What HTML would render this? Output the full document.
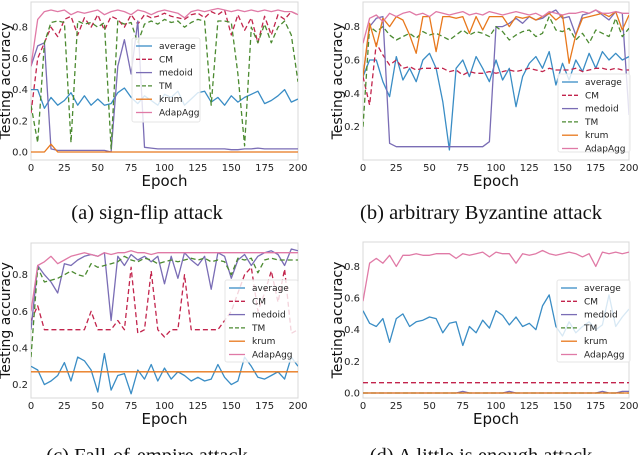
<!DOCTYPE html>
<html><head><meta charset="utf-8"><style>
body{margin:0;background:#fff}
svg{display:block;font-family:"DejaVu Sans","Liberation Sans",sans-serif}
</style></head><body>
<svg id="fig" width="640" height="455" viewBox="0 0 640 455"></svg>
<script>
const epochs=[0,5,10,15,20,25,30,35,40,45,50,55,60,65,70,75,80,85,90,95,100,105,110,115,120,125,130,135,140,145,150,155,160,165,170,175,180,185,190,195,200];
const xTicks=[0,25,50,75,100,125,150,175,200];
const seriesNames=["average","CM","medoid","TM","krum","AdapAgg"];
// panel a
const aAverage=[0.4,0.4,0.28,0.35,0.3,0.33,0.38,0.3,0.36,0.3,0.34,0.3,0.31,0.38,0.41,0.35,0.31,0.36,0.33,0.3,0.37,0.35,0.39,0.3,0.34,0.38,0.39,0.32,0.35,0.3,0.36,0.32,0.35,0.37,0.39,0.31,0.33,0.36,0.4,0.32,0.34];
const aCM=[0.25,0.6,0.7,0.8,0.74,0.85,0.87,0.75,0.86,0.8,0.88,0.78,0.87,0.85,0.8,0.88,0.82,0.88,0.86,0.87,0.89,0.87,0.86,0.85,0.88,0.89,0.86,0.9,0.88,0.91,0.75,0.88,0.78,0.86,0.7,0.87,0.75,0.88,0.85,0.9,0.88];
const aMedoid=[0.55,0.68,0.7,0.02,0.01,0.01,0.01,0.01,0.01,0.01,0.01,0.01,0.0,0.55,0.72,0.5,0.84,0.03,0.025,0.02,0.02,0.02,0.02,0.02,0.02,0.02,0.02,0.02,0.02,0.02,0.015,0.015,0.02,0.02,0.025,0.02,0.02,0.02,0.02,0.02,0.02];
const aTM=[0.3,0.06,0.7,0.83,0.84,0.83,0.06,0.84,0.82,0.83,0.8,0.83,0.02,0.84,0.82,0.83,0.7,0.82,0.84,0.82,0.85,0.83,0.84,0.8,0.83,0.85,0.84,0.3,0.84,0.84,0.83,0.5,0.04,0.8,0.7,0.82,0.7,0.8,0.84,0.75,0.45];
const aKrum=[0,0,0,0.05,0,0,0,0,0,0,0,0,0,0,0,0,0,0,0,0,0,0,0,0,0,0,0,0,0,0,0,0,0,0,0,0,0,0,0,0,0];
const aAdap=[0.55,0.85,0.9,0.91,0.9,0.91,0.88,0.9,0.89,0.9,0.91,0.88,0.9,0.91,0.9,0.88,0.91,0.9,0.88,0.9,0.91,0.9,0.89,0.86,0.9,0.91,0.9,0.91,0.92,0.91,0.9,0.91,0.9,0.91,0.9,0.91,0.9,0.91,0.9,0.9,0.88];
// panel b
const bAverage=[0.5,0.6,0.6,0.47,0.38,0.62,0.48,0.55,0.47,0.6,0.64,0.55,0.35,0.06,0.55,0.6,0.5,0.62,0.55,0.47,0.6,0.48,0.55,0.32,0.5,0.58,0.62,0.55,0.65,0.45,0.58,0.48,0.6,0.53,0.64,0.55,0.65,0.6,0.64,0.6,0.62];
const bCM=[0.5,0.33,0.7,0.63,0.57,0.6,0.55,0.56,0.54,0.55,0.55,0.55,0.55,0.53,0.54,0.51,0.53,0.52,0.52,0.53,0.52,0.53,0.54,0.53,0.54,0.55,0.54,0.53,0.55,0.54,0.54,0.54,0.55,0.53,0.54,0.55,0.55,0.54,0.55,0.54,0.54];
const bMedoid=[0.5,0.8,0.85,0.86,0.1,0.08,0.08,0.08,0.08,0.08,0.08,0.08,0.08,0.08,0.08,0.08,0.08,0.08,0.08,0.11,0.8,0.8,0.82,0.85,0.82,0.86,0.84,0.85,0.88,0.9,0.85,0.86,0.75,0.87,0.88,0.9,0.87,0.84,0.89,0.88,0.27];
const bTM=[0.2,0.8,0.77,0.8,0.75,0.72,0.74,0.76,0.73,0.77,0.75,0.76,0.74,0.72,0.75,0.78,0.75,0.77,0.76,0.74,0.8,0.77,0.72,0.75,0.77,0.78,0.74,0.76,0.86,0.78,0.77,0.79,0.72,0.76,0.7,0.78,0.76,0.74,0.85,0.74,0.79];
const bKrum=[0.5,0.82,0.68,0.85,0.8,0.86,0.84,0.75,0.64,0.86,0.86,0.65,0.86,0.86,0.85,0.86,0.76,0.86,0.78,0.86,0.86,0.86,0.8,0.86,0.85,0.86,0.84,0.86,0.88,0.84,0.87,0.58,0.75,0.85,0.86,0.87,0.88,0.86,0.89,0.78,0.87];
const bAdap=[0.7,0.85,0.87,0.83,0.88,0.86,0.88,0.89,0.87,0.88,0.86,0.89,0.88,0.87,0.88,0.89,0.87,0.88,0.87,0.89,0.88,0.87,0.88,0.89,0.88,0.87,0.88,0.86,0.89,0.88,0.87,0.88,0.88,0.89,0.88,0.9,0.88,0.88,0.89,0.88,0.88];
// panel c
const cAverage=[0.3,0.28,0.2,0.22,0.25,0.32,0.22,0.35,0.33,0.28,0.16,0.37,0.17,0.25,0.26,0.15,0.28,0.23,0.31,0.22,0.29,0.23,0.27,0.25,0.22,0.24,0.22,0.23,0.31,0.24,0.2,0.22,0.35,0.3,0.24,0.23,0.25,0.27,0.23,0.35,0.3];
const cCM=[0.55,0.63,0.5,0.5,0.5,0.5,0.5,0.5,0.5,0.6,0.5,0.5,0.5,0.55,0.5,0.84,0.48,0.5,0.82,0.5,0.46,0.5,0.5,0.8,0.5,0.5,0.5,0.5,0.5,0.55,0.6,0.7,0.8,0.84,0.6,0.7,0.82,0.65,0.83,0.48,0.5];
const cMedoid=[0.5,0.85,0.8,0.76,0.7,0.86,0.85,0.88,0.9,0.91,0.9,0.92,0.55,0.9,0.85,0.91,0.88,0.9,0.87,0.9,0.75,0.9,0.78,0.92,0.88,0.85,0.9,0.72,0.92,0.9,0.78,0.88,0.91,0.85,0.9,0.92,0.93,0.91,0.85,0.94,0.93];
const cTM=[0.35,0.84,0.76,0.77,0.78,0.8,0.82,0.8,0.79,0.86,0.84,0.85,0.86,0.87,0.9,0.88,0.87,0.89,0.88,0.86,0.87,0.88,0.87,0.88,0.89,0.88,0.89,0.87,0.88,0.87,0.8,0.89,0.88,0.89,0.81,0.88,0.89,0.88,0.88,0.88,0.88];
const cKrum=[0.27,0.27,0.27,0.27,0.27,0.27,0.27,0.27,0.27,0.27,0.27,0.27,0.27,0.27,0.27,0.27,0.27,0.27,0.27,0.27,0.27,0.27,0.27,0.27,0.27,0.27,0.27,0.27,0.27,0.27,0.27,0.27,0.27,0.27,0.27,0.27,0.27,0.27,0.27,0.27,0.27];
const cAdap=[0.6,0.85,0.87,0.9,0.86,0.88,0.9,0.91,0.92,0.91,0.9,0.92,0.91,0.92,0.92,0.93,0.92,0.92,0.91,0.92,0.92,0.92,0.92,0.92,0.92,0.92,0.92,0.92,0.92,0.92,0.92,0.92,0.92,0.92,0.92,0.92,0.92,0.92,0.92,0.92,0.92];
// panel d
const dAverage=[0.52,0.44,0.42,0.47,0.32,0.47,0.5,0.42,0.45,0.46,0.48,0.47,0.38,0.44,0.45,0.3,0.42,0.38,0.46,0.41,0.52,0.49,0.43,0.48,0.42,0.44,0.4,0.55,0.62,0.42,0.36,0.45,0.38,0.42,0.45,0.4,0.43,0.62,0.42,0.48,0.53];
const dCM=[0.065,0.065,0.065,0.065,0.065,0.065,0.065,0.065,0.065,0.065,0.065,0.065,0.065,0.065,0.065,0.065,0.065,0.065,0.065,0.065,0.065,0.065,0.065,0.065,0.065,0.065,0.065,0.065,0.065,0.065,0.065,0.065,0.065,0.065,0.065,0.065,0.065,0.065,0.065,0.065,0.065];
const dMedoid=[0,0,0,0,0,0,0,0,0,0,0,0,0,0,0,0.01,0,0,0,0,0,0,0.01,0,0,0,0,0,0,0,0,0,0,0,0,0,0.01,0,0,0.01,0.01];
const dTM=[0,0,0,0,0,0,0,0,0,0,0,0,0,0,0,0,0,0,0,0,0,0,0,0,0,0,0,0,0,0,0,0,0,0,0,0,0,0,0,0,0];
const dKrum=[0,0,0,0,0,0,0,0,0,0,0,0,0,0,0,0,0,0,0,0,0,0,0,0,0,0,0,0,0,0,0,0,0,0,0,0,0,0,0,0,0];
const dAdap=[0.58,0.82,0.85,0.82,0.87,0.8,0.87,0.87,0.88,0.87,0.87,0.88,0.88,0.88,0.85,0.88,0.87,0.88,0.89,0.86,0.89,0.88,0.88,0.82,0.88,0.87,0.88,0.9,0.88,0.87,0.88,0.89,0.88,0.86,0.88,0.8,0.89,0.88,0.89,0.88,0.89];

const colors={average:"#3a8dc5",CM:"#c2244c",medoid:"#7a6db5",TM:"#4b8a30",krum:"#e8781c",AdapAgg:"#e07aa6"};
const dashes={CM:"5,3",TM:"5,3"};
const NS="http://www.w3.org/2000/svg";
const svg=document.getElementById('fig');
function mk(tag,attrs,parent,text){const e=document.createElementNS(NS,tag);for(const k in attrs)e.setAttribute(k,attrs[k]);if(text!==undefined)e.textContent=text;(parent||svg).appendChild(e);return e;}

const panels=[
 {id:"a",x0:31,x1:298,top:2,bottom:160,y0px:152,ppt:15.6,yt:[0,0.2,0.4,0.6,0.8],leg:[132,38,68,84],cap:"(a) sign-flip attack",capY:219,capX:147,data:[aAverage,aCM,aMedoid,aTM,aKrum,aAdap]},
 {id:"b",x0:363,x1:629,top:2,bottom:160,y0px:160,ppt:16.67,yt:[0.2,0.4,0.6,0.8],leg:[558,74,72,78],cap:"(b) arbitrary Byzantine attack",capY:219,capX:481,data:[bAverage,bCM,bMedoid,bTM,bKrum,bAdap]},
 {id:"c",x0:31,x1:298,top:243,bottom:398,y0px:421.3,ppt:18.33,yt:[0.2,0.4,0.6,0.8],leg:[225,280,73,82],cap:"(c) Fall-of-empire attack",capY:462,capX:147,data:[cAverage,cCM,cMedoid,cTM,cKrum,cAdap]},
 {id:"d",x0:363,x1:629,top:242,bottom:398,y0px:393,ppt:15.83,yt:[0,0.2,0.4,0.6,0.8],leg:[557,280,73,82],cap:"(d) A little is enough attack",capY:462,capX:481,data:[dAverage,dCM,dMedoid,dTM,dKrum,dAdap]}
];

panels.forEach(p=>{
  const g=mk('g',{});
  
  
  const xs=v=>p.x0+(v/200)*(p.x1-p.x0);
  const ys=v=>p.y0px-v*10*p.ppt;
  const clipId='clip'+p.id;
  const cp=mk('clipPath',{id:clipId},g);
  mk('rect',{x:p.x0,y:p.top,width:p.x1-p.x0,height:p.bottom-p.top},cp);
  const frame=mk('rect',{x:p.x0,y:p.top,width:p.x1-p.x0,height:p.bottom-p.top,fill:"#fff",stroke:"#d8d8d8","stroke-width":1},g);
  
  
  xTicks.forEach(t=>{
    const tx=mk('text',{x:xs(t),y:p.bottom+11,"font-size":10,"text-anchor":"middle",fill:"#222"},g,String(t));
    
    
  });
  p.yt.forEach(t=>{
    const ty=mk('text',{x:p.x0-3,y:ys(t)+3.5,"font-size":10,"text-anchor":"end",fill:"#222"},g,t.toFixed(1));
    
    
  });
  const lines=mk('g',{"clip-path":"url(#"+clipId+")"},g);
  p.data.forEach((arr,i)=>{
    const n=seriesNames[i];
    const d=arr.map((v,j)=>(j?'L':'M')+xs(epochs[j]).toFixed(1)+','+ys(v).toFixed(1)).join('');
    const a={d:d,fill:"none",stroke:colors[n],"stroke-width":1.3,"stroke-linejoin":"round"};
    if(dashes[n])a["stroke-dasharray"]=dashes[n];
    const pa=mk('path',a,lines);
    
    
  });
  const [lx,ly,lw,lh]=p.leg;
  const lg=mk('g',{},g);
  
  
  mk('rect',{x:lx,y:ly,width:lw,height:lh,fill:"#fff","fill-opacity":0.8,stroke:"#e6e6e6",rx:2},lg);
  seriesNames.forEach((n,i)=>{
    const yy=ly+8+i*13.3;
    const a={x1:lx+4,x2:lx+20,y1:yy,y2:yy,stroke:colors[n],"stroke-width":1.3};
    if(dashes[n])a["stroke-dasharray"]="4,2";
    const ln=mk('line',a,lg);
    
    
    const t=mk('text',{x:lx+27,y:yy+3,"font-size":9,fill:"#222"},lg,n);
    
    
  });
  const yl=mk('text',{x:0,y:0,"font-size":14,"text-anchor":"middle",fill:"#111",transform:"translate("+(p.x0-21)+","+((p.top+p.bottom)/2)+") rotate(-90)"},g,"Testing accuracy");
  
  
  const xl=mk('text',{x:(p.x0+p.x1)/2,y:p.bottom+26,"font-size":15,"text-anchor":"middle",fill:"#111"},g,"Epoch");
  
  
  const cap=mk('text',{x:p.capX,y:p.capY,"font-size":20.5,"text-anchor":"middle",fill:"#111","font-family":"Liberation Serif, serif"},g,p.cap);
  
  
});
</script>
</body></html>
